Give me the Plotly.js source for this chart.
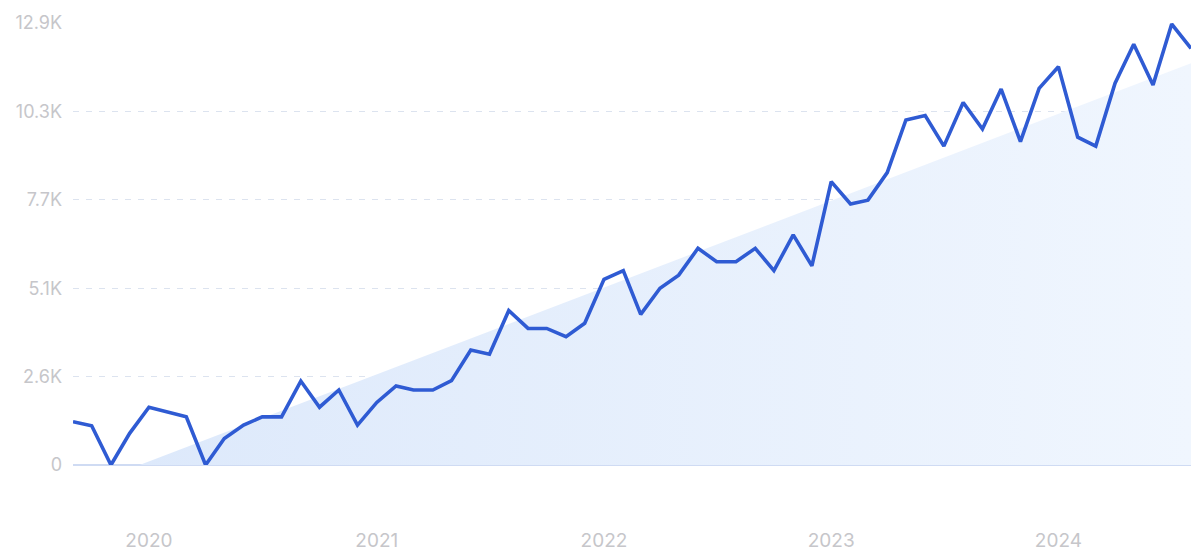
<!DOCTYPE html>
<html>
<head>
<meta charset="utf-8">
<script src="https://cdn.plot.ly/plotly-3.0.1.min.js"></script>
<style>
  html, body { margin: 0; padding: 0; background: #ffffff; }
  #chart { width: 1200px; height: 556px; }
</style>
</head>
<body>
<div id="chart"></div>
<script>
const months = [
  '2019-09-01','2019-10-01','2019-11-01','2019-12-01',
  '2020-01-01','2020-02-01','2020-03-01','2020-04-01','2020-05-01','2020-06-01','2020-07-01','2020-08-01','2020-09-01','2020-10-01','2020-11-01','2020-12-01',
  '2021-01-01','2021-02-01','2021-03-01','2021-04-01','2021-05-01','2021-06-01','2021-07-01','2021-08-01','2021-09-01','2021-10-01','2021-11-01','2021-12-01',
  '2022-01-01','2022-02-01','2022-03-01','2022-04-01','2022-05-01','2022-06-01','2022-07-01','2022-08-01','2022-09-01','2022-10-01','2022-11-01','2022-12-01',
  '2023-01-01','2023-02-01','2023-03-01','2023-04-01','2023-05-01','2023-06-01','2023-07-01','2023-08-01','2023-09-01','2023-10-01','2023-11-01','2023-12-01',
  '2024-01-01','2024-02-01','2024-03-01','2024-04-01','2024-05-01','2024-06-01','2024-07-01','2024-08-01'
];
const searches = [
  1260, 1140, 0, 920,
  1680, 1540, 1400, 0, 770, 1160, 1400, 1400, 2440, 1680, 2180, 1160,
  1820, 2300, 2180, 2180, 2450, 3340, 3220, 4490, 3970, 3970, 3730, 4120,
  5400, 5650, 4380, 5140, 5520, 6300, 5910, 5910, 6300, 5650, 6690, 5790,
  8240, 7590, 7700, 8500, 10030, 10160, 9270, 10540, 9770, 10930, 9400, 10950,
  11580, 9530, 9270, 11100, 12230, 11050, 12820, 12110
];
const trendX = ['2019-12-17', '2024-08-01'];
const trendY = [0, 11680];
const yTickVals = [0, 2570, 5140, 7710, 10280, 12850];
const yTickText = ['0', '2.6K', '5.1K', '7.7K', '10.3K', '12.9K'];
const xTickVals = ['2020-01-01', '2021-01-01', '2022-01-01', '2023-01-01', '2024-01-01'];
const xTickText = ['2020', '2021', '2022', '2023', '2024'];

const traces = [
  {
    x: trendX, y: trendY, type: 'scatter', mode: 'lines',
    line: { width: 0, color: 'rgba(0,0,0,0)' },
    fill: 'tozeroy',
    fillcolor: 'rgba(222,234,251,0.9)',
    fillgradient: {
      type: 'horizontal',
      colorscale: [[0, 'rgb(221,233,251)'], [1, 'rgb(240,246,254)']]
    },
    hoverinfo: 'skip', showlegend: false
  },
  {
    x: months, y: searches, type: 'scatter', mode: 'lines',
    line: { color: '#2f5bd3', width: 3.6, shape: 'linear' },
    showlegend: false
  }
];

const layout = {
  width: 1200, height: 556,
  margin: { l: 73, r: 9, t: 23, b: 91 },
  paper_bgcolor: '#ffffff', plot_bgcolor: '#ffffff',
  font: { family: 'Inter, "Open Sans", sans-serif', color: '#c6c6ca' },
  xaxis: {
    type: 'date',
    range: ['2019-09-01', '2024-08-01'],
    tickmode: 'array', tickvals: xTickVals, ticktext: xTickText,
    showgrid: false, zeroline: false, showline: false, ticks: '',
    tickfont: { size: 19, color: '#c6c6ca' },
    ticklabelstandoff: 62,
    fixedrange: true
  },
  yaxis: {
    range: [0, 12850],
    tickmode: 'array', tickvals: yTickVals, ticktext: yTickText,
    showgrid: true, gridcolor: '#dce3ef', griddash: '6px,7px', gridwidth: 1,
    zeroline: true, zerolinecolor: '#cfdbf3', zerolinewidth: 1.5,
    showline: false, ticks: '',
    tickfont: { size: 18, color: '#c6c6ca' },
    ticklabelstandoff: 10,
    fixedrange: true
  },
  hovermode: false
};

Plotly.newPlot('chart', traces, layout, { displayModeBar: false, staticPlot: true });
</script>
</body>
</html>
